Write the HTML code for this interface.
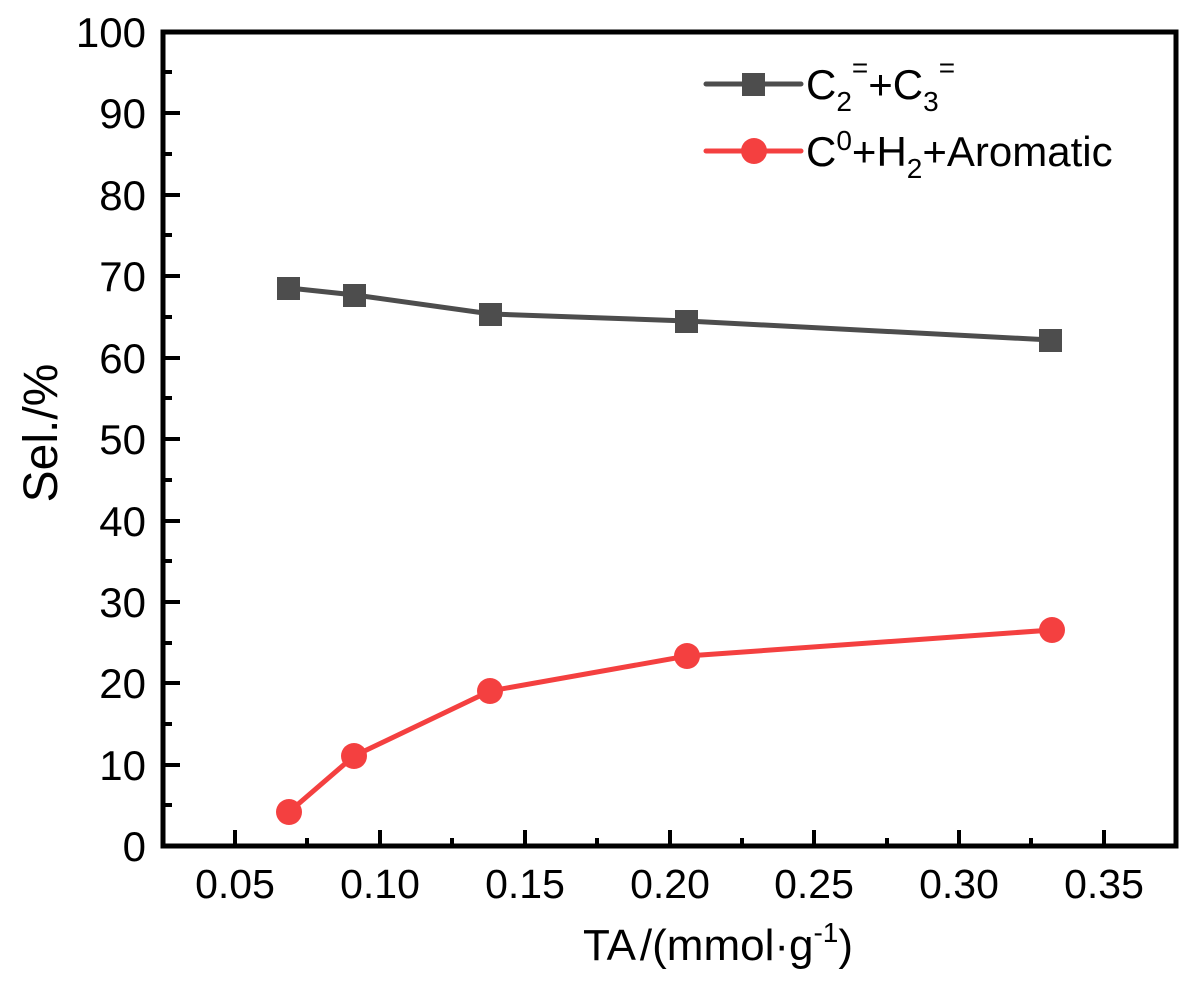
<!DOCTYPE html>
<html><head><meta charset="utf-8"><style>
html,body{margin:0;padding:0;background:#fff;}
svg text{font-family:"Liberation Sans",Arial,sans-serif;fill:#000;}
</style></head><body>
<svg width="1200" height="986" viewBox="0 0 1200 986" xmlns="http://www.w3.org/2000/svg">
<rect width="1200" height="986" fill="#fff"/>
<g stroke="#000" stroke-width="5" fill="none">
<rect x="163" y="32" width="1013" height="814"/>
</g>
<g stroke="#000" stroke-width="4">
<line x1="163" y1="846" x2="180" y2="846"/>
<line x1="163" y1="765" x2="180" y2="765"/>
<line x1="163" y1="683" x2="180" y2="683"/>
<line x1="163" y1="602" x2="180" y2="602"/>
<line x1="163" y1="521" x2="180" y2="521"/>
<line x1="163" y1="439" x2="180" y2="439"/>
<line x1="163" y1="358" x2="180" y2="358"/>
<line x1="163" y1="276" x2="180" y2="276"/>
<line x1="163" y1="195" x2="180" y2="195"/>
<line x1="163" y1="113" x2="180" y2="113"/>
<line x1="163" y1="805" x2="172" y2="805"/>
<line x1="163" y1="724" x2="172" y2="724"/>
<line x1="163" y1="643" x2="172" y2="643"/>
<line x1="163" y1="561" x2="172" y2="561"/>
<line x1="163" y1="480" x2="172" y2="480"/>
<line x1="163" y1="398" x2="172" y2="398"/>
<line x1="163" y1="317" x2="172" y2="317"/>
<line x1="163" y1="235" x2="172" y2="235"/>
<line x1="163" y1="154" x2="172" y2="154"/>
<line x1="163" y1="72" x2="172" y2="72"/>
<line x1="235" y1="846" x2="235" y2="830"/>
<line x1="380" y1="846" x2="380" y2="830"/>
<line x1="525" y1="846" x2="525" y2="830"/>
<line x1="670" y1="846" x2="670" y2="830"/>
<line x1="814" y1="846" x2="814" y2="830"/>
<line x1="959" y1="846" x2="959" y2="830"/>
<line x1="1104" y1="846" x2="1104" y2="830"/>
<line x1="307" y1="846" x2="307" y2="838"/>
<line x1="452" y1="846" x2="452" y2="838"/>
<line x1="597" y1="846" x2="597" y2="838"/>
<line x1="742" y1="846" x2="742" y2="838"/>
<line x1="887" y1="846" x2="887" y2="838"/>
<line x1="1031" y1="846" x2="1031" y2="838"/>
</g>
<g font-size="42" text-anchor="end">
<text x="146" y="861">0</text>
<text x="146" y="780">10</text>
<text x="146" y="698">20</text>
<text x="146" y="617">30</text>
<text x="146" y="536">40</text>
<text x="146" y="454">50</text>
<text x="146" y="373">60</text>
<text x="146" y="291">70</text>
<text x="146" y="210">80</text>
<text x="146" y="128">90</text>
<text x="146" y="47">100</text>
</g>
<g font-size="41" text-anchor="middle">
<text x="235" y="898">0.05</text>
<text x="380" y="898">0.10</text>
<text x="525" y="898">0.15</text>
<text x="670" y="898">0.20</text>
<text x="814" y="898">0.25</text>
<text x="959" y="898">0.30</text>
<text x="1104" y="898">0.35</text>
</g>
<text x="718" y="960" font-size="44" text-anchor="middle">TA<tspan dx="4">/(mmol·g</tspan><tspan font-size="28" dy="-18">-1</tspan><tspan dy="18">)</tspan></text>
<text transform="translate(57,433) rotate(-90)" font-size="48" text-anchor="middle">Sel./%</text>
<polyline points="289,288 355,295 491,314 687,321 1051,340" fill="none" stroke="#4d4d4d" stroke-width="5"/>
<g fill="#4d4d4d">
<rect x="277" y="277" width="23" height="23"/>
<rect x="343" y="284" width="23" height="23"/>
<rect x="479" y="303" width="23" height="23"/>
<rect x="675" y="310" width="23" height="23"/>
<rect x="1039" y="329" width="23" height="23"/>
</g>
<polyline points="289,812 354,756 490,691 687,656 1052,630" fill="none" stroke="#f44040" stroke-width="5"/>
<g fill="#f44040">
<circle cx="289" cy="812" r="13"/>
<circle cx="354" cy="756" r="13"/>
<circle cx="490" cy="691" r="13"/>
<circle cx="687" cy="656" r="13"/>
<circle cx="1052" cy="630" r="13"/>
</g>
<line x1="706" y1="84" x2="801" y2="84" stroke="#4d4d4d" stroke-width="5" stroke-linecap="round"/>
<rect x="742" y="73" width="23" height="23" fill="#4d4d4d"/>
<line x1="706" y1="151" x2="801" y2="151" stroke="#f44040" stroke-width="5" stroke-linecap="round"/>
<circle cx="754" cy="151" r="13" fill="#f44040"/>
<text x="806" y="99" font-size="42">C<tspan font-size="28" dy="12">2</tspan><tspan font-size="28" dy="-34">=</tspan><tspan font-size="42" dy="22">+C</tspan><tspan font-size="28" dy="12">3</tspan><tspan font-size="28" dy="-34">=</tspan></text>
<text x="806" y="166" font-size="42">C<tspan font-size="28" dy="-16">0</tspan><tspan font-size="42" dy="16">+H</tspan><tspan font-size="28" dy="12">2</tspan><tspan font-size="42" dy="-12">+Aromatic</tspan></text>
</svg>
</body></html>
